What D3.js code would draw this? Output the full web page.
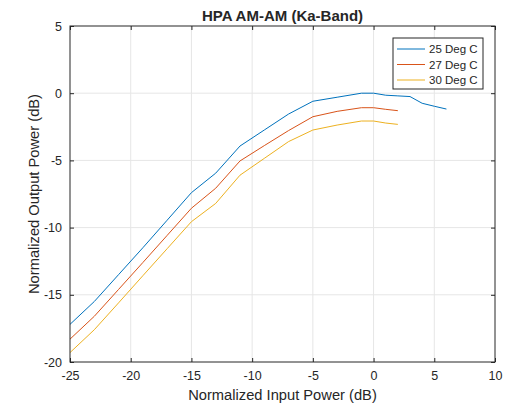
<!DOCTYPE html>
<html>
<head>
<meta charset="utf-8">
<script src="https://cdn.jsdelivr.net/npm/d3@7"></script>
<style>
  body { margin: 0; background: #fff; }
  svg text { font-family: "Liberation Sans", Arial, Helvetica, sans-serif; fill: #262626; }
</style>
</head>
<body>
<svg id="chart" width="509" height="404"></svg>
<script>
// input power (dB) sample points per curve
let x25 = [-25, -23, -21, -19, -17, -15, -13, -11, -9, -7, -5, -3, -1, 0, 1, 2, 3, 4, 5, 6];
let y25 = [-17.2, -15.5, -13.5, -11.5, -9.45, -7.4, -5.95, -3.93, -2.74, -1.55, -0.6, -0.3, 0, 0, -0.15, -0.2, -0.25, -0.75, -0.97, -1.18];

let x27 = [-25, -23, -21, -19, -17, -15, -13, -11, -9, -7, -5, -3, -1, 0, 1, 2];
let y27 = [-18.3, -16.6, -14.6, -12.6, -10.58, -8.56, -7.07, -5.04, -3.9, -2.78, -1.75, -1.35, -1.08, -1.08, -1.2, -1.3];

let x30 = [-25, -23, -21, -19, -17, -15, -13, -11, -9, -7, -5, -3, -1, 0, 1, 2];
let y30 = [-19.3, -17.6, -15.6, -13.58, -11.57, -9.56, -8.2, -6.1, -4.85, -3.6, -2.74, -2.37, -2.07, -2.07, -2.22, -2.32];

let seriesNames = ['25 Deg C', '27 Deg C', '30 Deg C'];
let seriesColors = ['#0072BD', '#D95319', '#EDB120'];

let xTicks = [-25, -20, -15, -10, -5, 0, 5, 10];
let yTicks = [-20, -15, -10, -5, 0, 5];

let series = [
  {name: seriesNames[0], color: seriesColors[0], pts: x25.map((d,i)=>[d, y25[i]])},
  {name: seriesNames[1], color: seriesColors[1], pts: x27.map((d,i)=>[d, y27[i]])},
  {name: seriesNames[2], color: seriesColors[2], pts: x30.map((d,i)=>[d, y30[i]])}
];

let svg = d3.select('#chart');
let pl = 70, pr = 495, pt = 26, pb = 362;

let sx = d3.scaleLinear().domain([-25, 10]).range([pl, pr]);
let sy = d3.scaleLinear().domain([-20, 5]).range([pb, pt]);

// grid
svg.append('g').selectAll('line')
  .data(xTicks.slice(1, -1))
  .enter().append('line')
  .attr('x1', d=>sx(d)).attr('x2', d=>sx(d))
  .attr('y1', pt).attr('y2', pb)
  .attr('stroke', '#e6e6e6').attr('stroke-width', 1);

svg.append('g').selectAll('line')
  .data(yTicks.slice(1, -1))
  .enter().append('line')
  .attr('x1', pl).attr('x2', pr)
  .attr('y1', d=>sy(d)).attr('y2', d=>sy(d))
  .attr('stroke', '#e6e6e6').attr('stroke-width', 1);

// curves
let line = d3.line().x(d=>sx(d[0])).y(d=>sy(d[1]));
svg.append('g').selectAll('path')
  .data(series)
  .enter().append('path')
  .attr('d', d=>line(d.pts))
  .attr('fill', 'none')
  .attr('stroke', d=>d.color)
  .attr('stroke-width', 1);

// axes, ticks pointing inward on all four sides; plain hyphen for negatives
let tickLen = 4;
let fmt = d => String(d);
let xAxis = d3.axisBottom(sx).tickValues(xTicks).tickSize(-tickLen).tickPadding(9).tickFormat(fmt);
let xAxisTop = d3.axisTop(sx).tickValues(xTicks).tickSize(-tickLen).tickFormat('');
let yAxis = d3.axisLeft(sy).tickValues(yTicks).tickSize(-tickLen).tickPadding(8).tickFormat(fmt);
let yAxisRight = d3.axisRight(sy).tickValues(yTicks).tickSize(-tickLen).tickFormat('');

let styleAxis = g => {
  g.select('.domain').remove();
  g.selectAll('line').attr('stroke', '#262626');
  g.selectAll('text').attr('font-size', 12.5).attr('fill', '#262626')
    .style('font-family', '"Liberation Sans", Arial, sans-serif');
};

svg.append('g').attr('transform', `translate(0,${pb})`).call(xAxis).call(styleAxis);
svg.append('g').attr('transform', `translate(0,${pt})`).call(xAxisTop).call(styleAxis);
svg.append('g').attr('transform', `translate(${pl},0)`).call(yAxis).call(styleAxis);
svg.append('g').attr('transform', `translate(${pr},0)`).call(yAxisRight).call(styleAxis);

svg.append('rect')
  .attr('x', pl).attr('y', pt)
  .attr('width', pr - pl).attr('height', pb - pt)
  .attr('fill', 'none').attr('stroke', '#262626').attr('stroke-width', 1);

// labels
svg.append('text')
  .attr('x', (pl + pr) / 2).attr('y', 20.5)
  .attr('text-anchor', 'middle')
  .attr('font-size', 15).attr('font-weight', 'bold')
  .attr('fill', '#000')
  .text('HPA AM-AM (Ka-Band)');

svg.append('text')
  .attr('x', (pl + pr) / 2).attr('y', 399.5)
  .attr('text-anchor', 'middle')
  .attr('font-size', 14.7)
  .text('Normalized Input Power (dB)');

svg.append('text')
  .attr('transform', `translate(38.5,${(pt + pb) / 2}) rotate(-90)`)
  .attr('text-anchor', 'middle')
  .attr('font-size', 14.7)
  .text('Normalized Output Power (dB)');

// legend
let lg = svg.append('g').attr('transform', 'translate(393,38)');
lg.append('rect')
  .attr('width', 90).attr('height', 51)
  .attr('fill', '#fff').attr('stroke', '#262626').attr('stroke-width', 1);

let rows = lg.selectAll('.row')
  .data(series)
  .enter().append('g')
  .attr('class', 'row')
  .attr('transform', (_,i)=>`translate(0,${11 + i * 15.5})`);

rows.append('line')
  .attr('x1', 4).attr('x2', 32)
  .attr('stroke', d=>d.color).attr('stroke-width', 1);

rows.append('text')
  .attr('x', 36).attr('y', 4)
  .attr('font-size', 11.5)
  .attr('fill', '#000')
  .text(d=>d.name);
</script>
</body>
</html>
